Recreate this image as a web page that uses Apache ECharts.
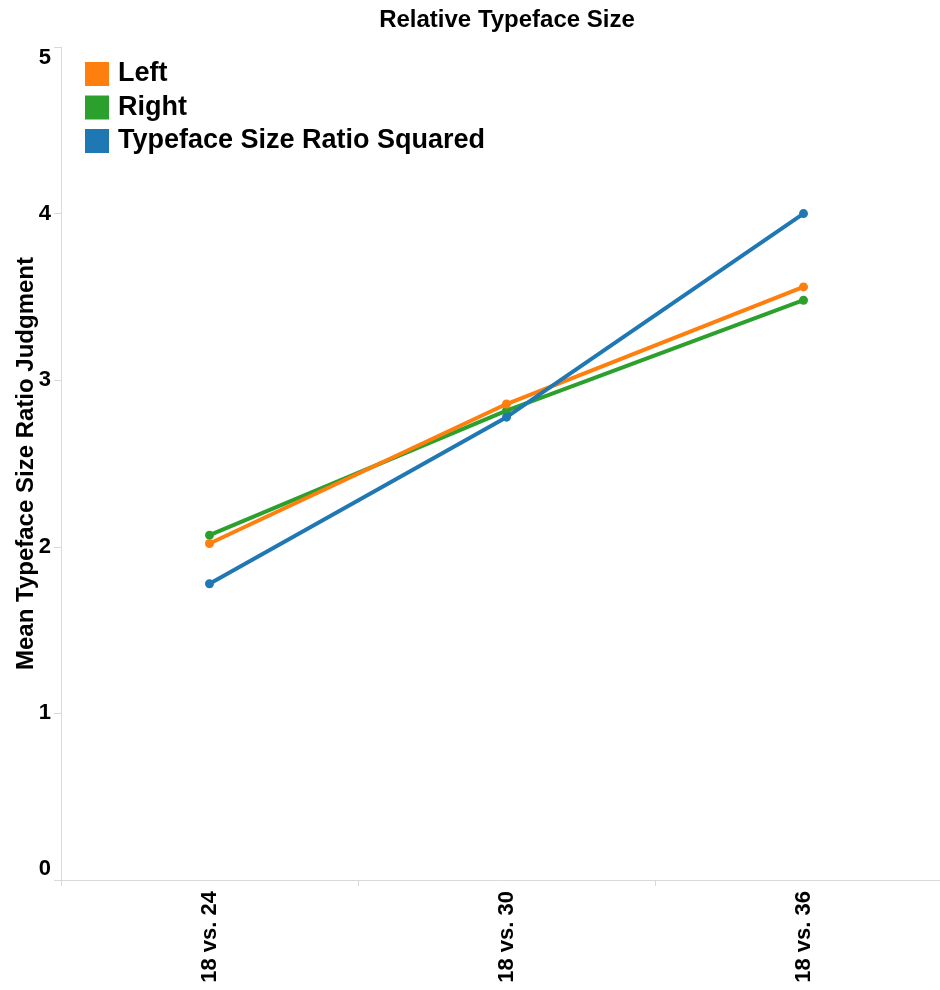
<!DOCTYPE html>
<html>
<head>
<meta charset="utf-8">
<script src="https://cdn.jsdelivr.net/npm/echarts@6/dist/echarts.min.js"></script>
<style>html,body{margin:0;padding:0;background:#fff}#c{width:940px;height:990px}</style>
</head>
<body>
<div id="c"></div>
<script>
const categories = ['18 vs. 24', '18 vs. 30', '18 vs. 36'];
const leftValues = [2.02, 2.857, 3.56];
const rightValues = [2.07, 2.817, 3.48];
const squaredValues = [1.778, 2.778, 4.0];
const yTicks = [0, 1, 2, 3, 4, 5];
const seriesNames = ['Left', 'Right', 'Typeface Size Ratio Squared'];
const colors = { 'Left': '#ff7f0e', 'Right': '#2ca02c', 'Typeface Size Ratio Squared': '#1f77b4' };

const font = 'Liberation Sans, Arial, Helvetica, sans-serif';
const chart = echarts.init(document.getElementById('c'));
function mk(name, data, z) {
  return {
    name: name, type: 'line', data: data, z: z,
    symbol: 'circle', symbolSize: 9,
    lineStyle: { width: 4, color: colors[name] },
    itemStyle: { color: colors[name] },
    emphasis: { disabled: true }
  };
}
chart.setOption({
  animation: false,
  title: {
    text: 'Relative Typeface Size', left: 507, top: 8, textAlign: 'center', padding: 0,
    textStyle: { fontFamily: font, fontWeight: 'bold', fontSize: 24, color: '#000' }
  },
  legend: {
    data: seriesNames, orient: 'vertical', left: 85, top: 60.5, padding: 0,
    icon: 'rect', itemWidth: 24, itemHeight: 24, itemGap: 6.5,
    textStyle: { fontFamily: font, fontWeight: 'bold', fontSize: 27, color: '#000', padding: [0, 0, 0, 4] },
    selectedMode: false
  },
  grid: { left: 61, top: 47, height: 833, width: 891, containLabel: false, outerBoundsMode: 'none' },
  xAxis: {
    type: 'category', data: categories, boundaryGap: true,
    axisLine: { show: true, lineStyle: { color: '#d9d9d9', width: 1 } },
    axisTick: { show: true, length: 6, lineStyle: { color: '#d9d9d9' } },
    axisLabel: { rotate: 90, margin: 11, fontFamily: font, fontWeight: 'bold', fontSize: 22, color: '#000' },
    splitLine: { show: false }
  },
  yAxis: {
    type: 'value', min: 0, max: 5, interval: 1,
    name: 'Mean Typeface Size Ratio Judgment', nameLocation: 'middle', nameGap: 23,
    nameMoveOverlap: false,
    nameTextStyle: { fontFamily: font, fontWeight: 'bold', fontSize: 24, color: '#000' },
    axisLine: { show: true, lineStyle: { color: '#d9d9d9', width: 1 } },
    axisTick: { show: true, length: 7, lineStyle: { color: '#d9d9d9' } },
    axisLabel: { margin: 10, fontFamily: font, fontWeight: 'bold', fontSize: 22, color: '#000',
      verticalAlignMinLabel: 'bottom', verticalAlignMaxLabel: 'top',
      formatter: function (v) { return yTicks.indexOf(v) >= 0 ? String(v) : ''; } },
    splitLine: { show: false }
  },
  series: [
    mk('Right', rightValues, 2),
    mk('Left', leftValues, 3),
    mk('Typeface Size Ratio Squared', squaredValues, 4)
  ]
});
</script>
</body>
</html>
